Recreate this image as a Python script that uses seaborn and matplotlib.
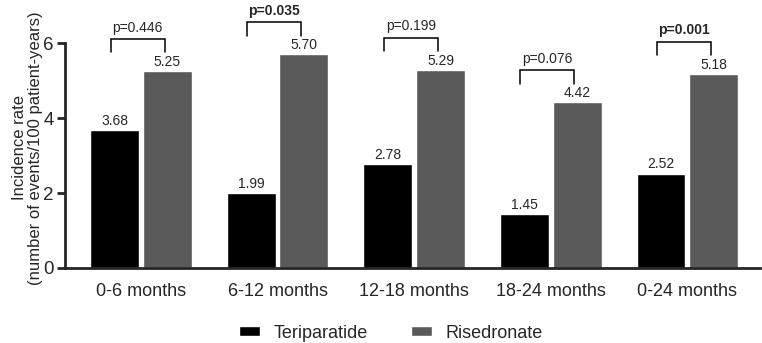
import numpy as np
import pandas as pd
import seaborn as sns
import matplotlib.pyplot as plt

## data
periods = ['0-6 months', '6-12 months', '12-18 months', '18-24 months', '0-24 months']
teriparatide = [3.68, 1.99, 2.78, 1.45, 2.52]
risedronate = [5.25, 5.70, 5.29, 4.42, 5.18]
p_values = ['p=0.446', 'p=0.035', 'p=0.199', 'p=0.076', 'p=0.001']
p_bold = [False, True, False, False, True]

df = pd.DataFrame({
    'Period': periods * 2,
    'Rate': teriparatide + risedronate,
    'Drug': ['Teriparatide'] * len(periods) + ['Risedronate'] * len(periods),
})

sns.set_style('ticks')
plt.rcParams['font.family'] = ['Liberation Sans', 'DejaVu Sans']

fig = plt.figure(figsize=(7.62, 3.43), dpi=100)
ax = fig.add_axes([0.0853, 0.2187, 0.9117, 0.7813])

sns.barplot(data=df, x='Period', y='Rate', hue='Drug', order=periods,
            hue_order=['Teriparatide', 'Risedronate'],
            palette=['#000000', '#5a5a5a'], width=0.77, gap=0.07,
            saturation=1, ax=ax)

# value labels
for cont in ax.containers:
    ax.bar_label(cont, fmt='%.2f', padding=1.5, fontsize=10)

# significance brackets
black_bars, grey_bars = ax.containers[0], ax.containers[1]
for i, (pb, pg) in enumerate(zip(black_bars.patches, grey_bars.patches)):
    x1 = pb.get_x() + pb.get_width() / 2 - 0.03
    x2 = pg.get_x() + pg.get_width() / 2 - 0.02
    top = risedronate[i] + 0.85
    leg = risedronate[i] + 0.5
    ax.plot([x1, x1, x2, x2], [leg, top, top, leg], color='black', lw=1.1,
            solid_joinstyle='miter')
    ax.text((x1 + x2) / 2, top + 0.12, p_values[i], ha='center', va='bottom',
            fontsize=10, fontweight='bold' if p_bold[i] else 'normal')

ax.set_ylim(0, 7.15)
ax.set_xlim(-0.557, 4.53)
ax.set_yticks([0, 2, 4, 6])
ax.spines['left'].set_bounds(0, 6)
for s in ['left', 'bottom']:
    ax.spines[s].set_linewidth(2)
sns.despine(ax=ax)
ax.tick_params(axis='y', length=6, width=2, labelsize=13.5, pad=2)
ax.tick_params(axis='x', length=0, labelsize=13, pad=11)
ax.set_xlabel('')
ax.set_ylabel('Incidence rate\n(number of events/100 patient-years)',
              fontsize=12, linespacing=1.1)
ax.yaxis.set_label_coords(-0.032, 0.448)

ax.legend(loc='center', bbox_to_anchor=(0.469, -0.243), ncol=2,
          frameon=False, fontsize=13, handlelength=1.17, handleheight=0.45,
          columnspacing=2.4, handletextpad=0.75)

fig.savefig('out.png', dpi=100)
